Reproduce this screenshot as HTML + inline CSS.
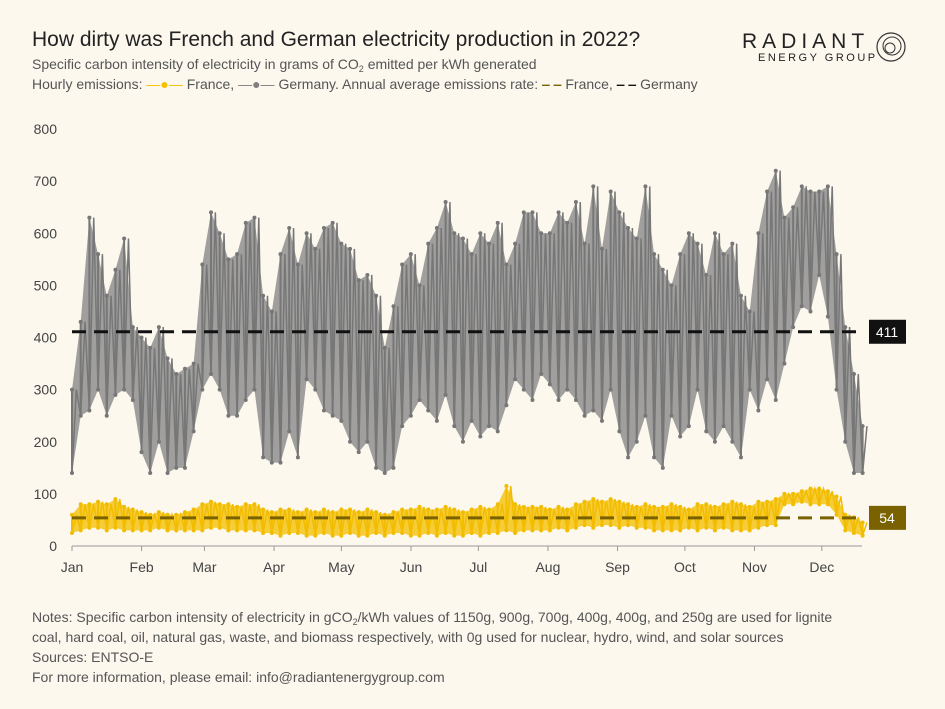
<!DOCTYPE html>
<html><head><meta charset="utf-8">
<style>
body{margin:0;background:#fcf8ee;font-family:"Liberation Sans",sans-serif;}
#wrap{position:relative;width:945px;height:709px;overflow:hidden;background:#fcf8ee;}
.t{position:absolute;white-space:nowrap;color:#333;}
sub{font-size:9px;line-height:0;vertical-align:-3px;}
</style></head><body>
<div id="wrap">
<div class="t" style="left:32px;top:28px;font-size:21px;color:#222;">How dirty was French and German electricity production in 2022?</div>
<div class="t" style="left:32px;top:56px;font-size:14px;color:#555;">Specific carbon intensity of electricity in grams of CO<sub>2</sub> emitted per kWh generated</div>
<div class="t" style="left:32px;top:76px;font-size:14px;color:#555;">Hourly emissions: <span style="color:#f5c000">—●—</span> France, <span style="color:#808080">—●—</span> Germany. Annual average emissions rate: <span style="color:#7a6200;font-weight:bold">‒ ‒</span> France, <span style="color:#111;font-weight:bold">‒ ‒</span> Germany</div>
<div class="t" style="left:742px;top:30px;font-size:21px;letter-spacing:5px;color:#222;">RADIANT</div>
<div class="t" style="left:758px;top:52px;font-size:11px;letter-spacing:2.5px;color:#222;">ENERGY GROUP</div>
<svg style="position:absolute;left:874px;top:30px" width="34" height="34"><circle cx="17" cy="17" r="14" fill="none" stroke="#333" stroke-width="1.2"/><circle cx="18" cy="16" r="9" fill="none" stroke="#333" stroke-width="1"/><circle cx="16" cy="18" r="5" fill="none" stroke="#333" stroke-width="1"/></svg>
<svg id="chart" width="945" height="709" style="position:absolute;left:0;top:0"></svg>
<div class="t" style="left:32px;top:607px;font-size:14px;color:#555;line-height:20px;">Notes: Specific carbon intensity of electricity in gCO<sub>2</sub>/kWh values of 1150g, 900g, 700g, 400g, 400g, and 250g are used for lignite<br>coal, hard coal, oil, natural gas, waste, and biomass respectively, with 0g used for nuclear, hydro, wind, and solar sources<br>Sources: ENTSO-E<br>For more information, please email: info@radiantenergygroup.com</div>
</div>
<script>
const months=["Jan","Feb","Mar","Apr","May","Jun","Jul","Aug","Sep","Oct","Nov","Dec"];
const monthStartDays=[0,31,59,90,120,151,181,212,243,273,304,334];
const yTicks=[0,100,200,300,400,500,600,700,800];
const germanyLo=[140,250,260,300,250,290,300,280,180,140,200,140,150,150,220,300,330,300,250,250,280,300,170,160,160,220,170,320,300,260,250,240,200,180,200,150,140,150,230,250,280,260,240,290,230,200,240,210,230,220,270,320,300,280,330,310,280,300,280,250,260,240,300,220,170,200,250,170,150,250,210,230,300,220,200,230,200,170,300,260,320,280,350,420,460,450,520,440,300,200,140,140];
const germanyHi=[300,430,630,560,480,530,590,420,400,380,420,360,330,340,350,540,640,600,550,560,620,630,480,450,560,610,540,600,570,610,620,580,570,510,520,480,380,460,540,560,500,580,610,660,600,590,560,600,580,620,540,580,640,640,600,600,640,620,660,580,690,570,680,640,610,590,690,560,530,500,560,600,580,520,600,560,580,480,450,600,680,720,630,650,690,680,680,690,560,420,330,230];
const franceLo=[25,30,35,35,30,35,30,30,30,30,35,30,30,30,30,30,35,35,30,30,30,30,25,25,20,25,25,20,20,25,20,20,25,20,20,25,20,25,25,20,20,25,20,25,20,20,25,20,25,25,30,25,30,30,30,30,35,30,35,40,35,40,40,35,40,35,35,30,30,30,30,35,30,35,30,35,30,30,30,35,40,40,80,80,85,80,80,80,60,30,25,20];
const franceHi=[60,80,80,85,80,90,75,70,65,60,65,60,60,65,70,80,85,80,80,75,80,80,70,65,70,70,65,70,65,70,65,70,70,65,70,65,60,65,70,70,75,70,70,75,70,65,70,75,70,80,115,80,75,75,75,70,75,70,80,85,90,85,90,85,80,75,80,75,75,80,75,70,80,80,75,80,85,80,75,85,85,90,100,100,105,110,110,105,95,60,55,45];
const stepDays=3.87;
const germanyAvg=411, franceAvg=54;
const NS="http://www.w3.org/2000/svg";
const svg=document.getElementById('chart');
const x0=72,pxPerDay=2.245,y0=546,y800=129,lineEnd=862;
const X=d=>x0+d*pxPerDay;
const Y=v=>y0-v*(y0-y800)/800;
function mk(tag,attrs,parent){const e=document.createElementNS(NS,tag);for(const k in attrs)e.setAttribute(k,attrs[k]);(parent||svg).appendChild(e);return e;}
yTicks.forEach(v=>{const t=mk('text',{x:57,y:Y(v)+5,'text-anchor':'end','font-size':14,fill:'#444','font-family':'Liberation Sans'});t.textContent=v;

});
mk('line',{x1:x0,x2:lineEnd,y1:y0,y2:y0,stroke:'#999','stroke-width':1});
months.forEach((m,i)=>{const x=X(monthStartDays[i]);mk('line',{x1:x,x2:x,y1:y0,y2:y0+5,stroke:'#999'});
const t=mk('text',{x:x,y:572,'text-anchor':'middle','font-size':14,fill:'#444','font-family':'Liberation Sans'});t.textContent=m;

});
function series(lo,hi,color,fill,name){
  const g=mk('g',{});
  
  
  let area='';lo.forEach((v,i)=>{area+=(i?'L':'M')+X(i*stepDays)+','+Y(hi[i]);});
  for(let i=lo.length-1;i>=0;i--)area+='L'+X(i*stepDays)+','+Y(lo[i]);
  mk('path',{d:area+'Z',fill:fill,'fill-opacity':0.85},g);
  let pts=[];lo.forEach((v,i)=>{const d=i*stepDays;pts.push(X(d)+','+Y(lo[i]));pts.push(X(d+stepDays/2)+','+Y(hi[i]));});
  mk('polyline',{points:pts.join(' '),fill:'none',stroke:color,'stroke-width':1.5},g);
  lo.forEach((v,i)=>{const d=i*stepDays;mk('line',{x1:X(d),x2:X(d),y1:Y(lo[i]),y2:Y(hi[i]),stroke:color,'stroke-width':2},g);
    mk('circle',{cx:X(d),cy:Y(lo[i]),r:2,fill:color},g);mk('circle',{cx:X(d),cy:Y(hi[i]),r:2,fill:color},g);});
}
series(germanyLo,germanyHi,'#777','#8f8f8f','germany-series');
series(franceLo,franceHi,'#f2bc00','#f5c518','france-series');
function avg(v,color,name){
  const l=mk('line',{x1:x0,x2:lineEnd-6,y1:Y(v),y2:Y(v),stroke:color,'stroke-width':3,'stroke-dasharray':'14,8'});
  
  
  const r=mk('rect',{x:869,y:Y(v)-12,width:37,height:24,fill:color});
  
  
  const t=mk('text',{x:887,y:Y(v)+5,'text-anchor':'middle','font-size':14,fill:'#fff','font-family':'Liberation Sans'});t.textContent=v;
  
  
}
avg(germanyAvg,'#111','germany-average');
avg(franceAvg,'#7a6200','france-average');
</script>
</body></html>
